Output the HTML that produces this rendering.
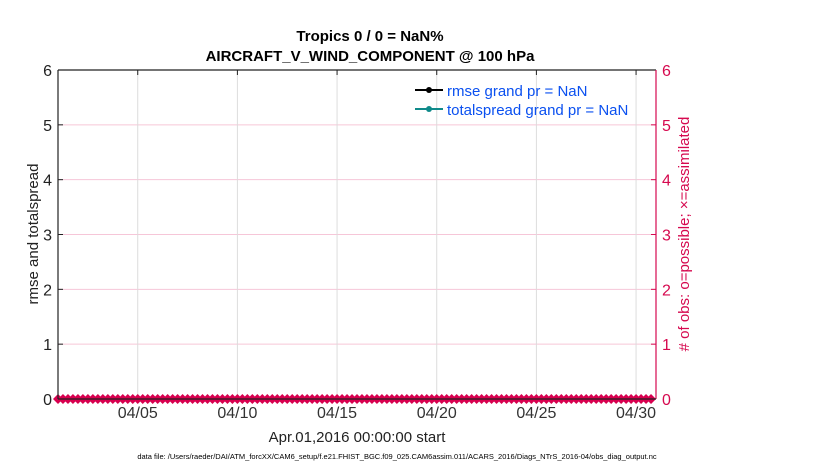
<!DOCTYPE html>
<html><head><meta charset="utf-8"><style>
body{margin:0;background:#fff;}
svg text{font-family:"Liberation Sans",Arial,sans-serif;}
</style></head><body>
<svg width="830" height="470" xmlns="http://www.w3.org/2000/svg">
<g id="grid"></g>
<g id="marks"></g>
<g id="axes"></g>
<text x="370" y="41" text-anchor="middle" font-size="15" font-weight="bold">Tropics 0 / 0 = NaN%</text>
<text x="370" y="61" text-anchor="middle" font-size="15" font-weight="bold">AIRCRAFT_V_WIND_COMPONENT @ 100 hPa</text>
<text x="357" y="442" text-anchor="middle" font-size="15" fill="#222">Apr.01,2016 00:00:00 start</text>
<text transform="translate(38,234) rotate(-90)" text-anchor="middle" font-size="15" fill="#222">rmse and totalspread</text>
<text transform="translate(689,234) rotate(-90)" text-anchor="middle" font-size="15" fill="#d6094f"># of obs: o=possible; ×=assimilated</text>
<text x="397" y="459" text-anchor="middle" font-size="7.5" fill="#000">data file: /Users/raeder/DAI/ATM_forcXX/CAM6_setup/f.e21.FHIST_BGC.f09_025.CAM6assim.011/ACARS_2016/Diags_NTrS_2016-04/obs_diag_output.nc</text>
<g>
<line x1="415" y1="90" x2="443" y2="90" stroke="#000" stroke-width="2"/><circle cx="429" cy="90" r="3" fill="#000"/>
<text x="447" y="96" font-size="15" fill="#0a50f0">rmse grand pr = NaN</text>
<line x1="415" y1="109" x2="443" y2="109" stroke="#0f8a8a" stroke-width="2"/><circle cx="429" cy="109" r="3" fill="#0f8a8a"/>
<text x="447" y="115" font-size="15" fill="#0a50f0">totalspread grand pr = NaN</text>
</g>
</svg>
<script>
const yTicks=[0,1,2,3,4,5,6];
const xTickDays=[4,9,14,19,24,29];
const xTickLabels=['04/05','04/10','04/15','04/20','04/25','04/30'];
const obsTimesDays=[];for(let i=0;i<120;i++)obsTimesDays.push(i*0.25);
const obsCounts=obsTimesDays.map(()=>0);
const L=58,R=656,T=70,B=399,xMax=30,yMax=6;
const xs=d=>L+d/xMax*(R-L), ys=v=>B-v/yMax*(B-T);
const NS='http://www.w3.org/2000/svg';
function mk(p,t,a){const e=document.createElementNS(NS,t);for(const k in a)e.setAttribute(k,a[k]);p.appendChild(e);return e;}
const g=document.getElementById('grid'),m=document.getElementById('marks'),ax=document.getElementById('axes');
yTicks.forEach(v=>{if(v>0&&v<6){const l=mk(g,'line',{x1:L,x2:R,y1:ys(v),y2:ys(v),stroke:'#f6c6d8','stroke-width':1});

}
const t=mk(ax,'text',{x:L-6,y:ys(v)+6,'text-anchor':'end','font-size':16,fill:'#222'});t.textContent=v;


const t2=mk(ax,'text',{x:R+6,y:ys(v)+6,'font-size':16,fill:'#d6094f'});t2.textContent=v;


mk(ax,'line',{x1:L,x2:L+5,y1:ys(v),y2:ys(v),stroke:'#222'});
mk(ax,'line',{x1:R-5,x2:R,y1:ys(v),y2:ys(v),stroke:'#d6094f'});});
xTickDays.forEach((d,i)=>{const l=mk(g,'line',{x1:xs(d),x2:xs(d),y1:T,y2:B,stroke:'#dcdcdc','stroke-width':1});


mk(ax,'line',{x1:xs(d),x2:xs(d),y1:T,y2:T+5,stroke:'#222'});
const t=mk(ax,'text',{x:xs(d),y:B+19,'text-anchor':'middle','font-size':16,fill:'#333'});t.textContent=xTickLabels[i];

});
mk(ax,'line',{x1:L,x2:L,y1:T,y2:B,stroke:'#222','stroke-width':1.2});
mk(ax,'line',{x1:L,x2:R,y1:T,y2:T,stroke:'#222','stroke-width':1.2});
mk(ax,'line',{x1:R,x2:R,y1:T,y2:B,stroke:'#d6094f','stroke-width':1.2});
mk(ax,'line',{x1:L,x2:R,y1:B,y2:B,stroke:'#222','stroke-width':1.2});
const pts=obsTimesDays.map((d,i)=>xs(d)+','+ys(obsCounts[i])).join(' ');
const pl=mk(m,'polyline',{points:pts,fill:'none',stroke:'#d8004f','stroke-width':3});


obsTimesDays.forEach((d,i)=>{const x=xs(d),y=ys(obsCounts[i]);
const p=mk(m,'polygon',{points:`${x},${y-5} ${x+5},${y} ${x},${y+5} ${x-5},${y}`,fill:'#d8004f'});

});
</script>
</body></html>
